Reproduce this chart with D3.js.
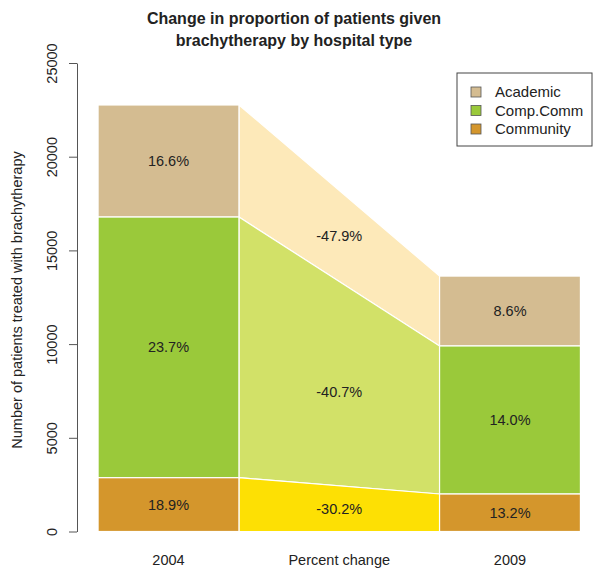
<!DOCTYPE html>
<html>
<head>
<meta charset="utf-8">
<script src="https://cdn.jsdelivr.net/npm/d3@7"></script>
<style>
    body { margin: 0; background: #fff; }
    svg text { font-family: 'Liberation Sans', Arial, sans-serif; fill: #222; }
</style>
</head>
<body>
<svg id="chart" width="602" height="576"></svg>
<script>
// data

let groups = ['Academic', 'Comp.Comm', 'Community'];
let columns = ['2004', 'Percent change', '2009'];

// patients per hospital type
let counts2004 = [5980, 13910, 2870];
let counts2009 = [3730, 7900, 2000];

let labels2004 = ['16.6%', '23.7%', '18.9%'];
let labels2009 = ['8.6%', '14.0%', '13.2%'];
let labelsChange = ['-47.9%', '-40.7%', '-30.2%'];

let yTicks = [0, 5000, 10000, 15000, 20000, 25000];

let barColors = ['#d4bc91', '#9ac93a', '#d4962c'];
let changeColors = ['#fde9b9', '#d2e168', '#fde004'];

// scales

let svg = d3.select('#chart');

let y = d3.scaleLinear()
    .domain([0, 25000])
    .range([531.5, 63]);

let x = d3.scalePoint()
    .domain(columns)
    .range([168.5, 510]);

let barWidth = x.step() * 0.825;

// stack: community at the bottom, academic on top
function stackUp(counts) {
    let out = [];
    let base = 0;
    for (let i = counts.length - 1; i >= 0; i--) {
        out[i] = { y0: base, y1: base + counts[i] };
        base += counts[i];
    }
    return out;
}

let s2004 = stackUp(counts2004);
let s2009 = stackUp(counts2009);

let left = x('2004') - barWidth / 2;
let right = x('2009') - barWidth / 2;

// connecting polygons

let polyData = groups.map((g, i) => ({
    a: s2004[i], b: s2009[i], color: changeColors[i], label: labelsChange[i],
}));

svg.selectAll('.change')
    .data(polyData)
    .enter()
    .append('polygon')
    .classed('change', 1)
    .attr('points', (d) => [
        [left + barWidth, y(d.a.y1)],
        [right, y(d.b.y1)],
        [right, y(d.b.y0)],
        [left + barWidth, y(d.a.y0)],
    ].join(' '))
    .attr('fill', (d) => d.color)
    .attr('stroke', '#fff')
    .attr('stroke-width', 1.2);

// bars

let barData = [];
groups.forEach((g, i) => {
    barData.push({ col: '2004', s: s2004[i], color: barColors[i], label: labels2004[i] });
    barData.push({ col: '2009', s: s2009[i], color: barColors[i], label: labels2009[i] });
});

svg.selectAll('.bar')
    .data(barData)
    .enter()
    .append('rect')
    .classed('bar', 1)
    .attr('x', (d) => x(d.col) - barWidth / 2)
    .attr('y', (d) => y(d.s.y1))
    .attr('width', barWidth)
    .attr('height', (d) => y(d.s.y0) - y(d.s.y1))
    .attr('fill', (d) => d.color)
    .attr('stroke', '#fff')
    .attr('stroke-width', 1.2);

// labels

svg.selectAll('.barLabel')
    .data(barData)
    .enter()
    .append('text')
    .classed('barLabel', 1)
    .attr('x', (d) => x(d.col))
    .attr('y', (d) => y((d.s.y0 + d.s.y1) / 2))
    .attr('dy', '0.35em')
    .attr('text-anchor', 'middle')
    .style('font-size', '14.5px')
    .text((d) => d.label);

svg.selectAll('.changeLabel')
    .data(polyData)
    .enter()
    .append('text')
    .classed('changeLabel', 1)
    .attr('x', x('Percent change'))
    .attr('y', (d, i) => y((d.a.y0 + d.a.y1 + d.b.y0 + d.b.y1) / 4) + (i == 1 ? 8 : 0))
    .attr('dy', '0.35em')
    .attr('text-anchor', 'middle')
    .style('font-size', '14.5px')
    .text((d) => d.label);

// y axis

let yAxis = svg.append('g')
    .attr('transform', 'translate(77,0)')
    .call(d3.axisLeft(y).tickValues(yTicks).tickSize(8).tickSizeOuter(0).tickFormat(d3.format('d')));

yAxis.select('.domain').attr('stroke', '#555');
yAxis.selectAll('.tick line').attr('stroke', '#555');
yAxis.selectAll('.tick text')
    .attr('x', 0)
    .attr('dy', 0)
    .attr('transform', 'translate(-20,0) rotate(-90)')
    .attr('text-anchor', 'middle')
    .style('font-size', '14.5px')
    .style('font-family', "'Liberation Sans', Arial, sans-serif")
    .attr('fill', '#333');

svg.append('text')
    .attr('transform', 'translate(22,300) rotate(-90)')
    .attr('text-anchor', 'middle')
    .style('font-size', '14.5px')
    .text('Number of patients treated with brachytherapy');

// x labels

svg.selectAll('.xLabel')
    .data(columns)
    .enter()
    .append('text')
    .classed('xLabel', 1)
    .attr('x', (d) => x(d))
    .attr('y', 565)
    .attr('text-anchor', 'middle')
    .style('font-size', '14.5px')
    .text((d) => d);

// title

let titleLines = ['Change in proportion of patients given', 'brachytherapy by hospital type'];

svg.selectAll('.title')
    .data(titleLines)
    .enter()
    .append('text')
    .classed('title', 1)
    .attr('x', 294)
    .attr('y', (d, i) => 24 + i * 22)
    .attr('text-anchor', 'middle')
    .style('font-size', '16px')
    .style('font-weight', 'bold')
    .text((d) => d);

// legend

let legend = svg.append('g').attr('transform', 'translate(457,73)');

legend.append('rect')
    .attr('width', 135)
    .attr('height', 73)
    .attr('fill', '#fff')
    .attr('stroke', '#444');

let items = legend.selectAll('.item')
    .data(groups)
    .enter()
    .append('g')
    .classed('item', 1)
    .attr('transform', (d, i) => `translate(0,${19 + i * 18.5})`);

items.append('rect')
    .attr('x', 14)
    .attr('y', -5)
    .attr('width', 10)
    .attr('height', 10)
    .attr('fill', (d, i) => barColors[i])
    .attr('stroke', '#555')
    .attr('stroke-width', 0.8);

items.append('text')
    .attr('x', 38)
    .attr('dy', '0.35em')
    .style('font-size', '15px')
    .text((d) => d);
</script>
</body>
</html>
